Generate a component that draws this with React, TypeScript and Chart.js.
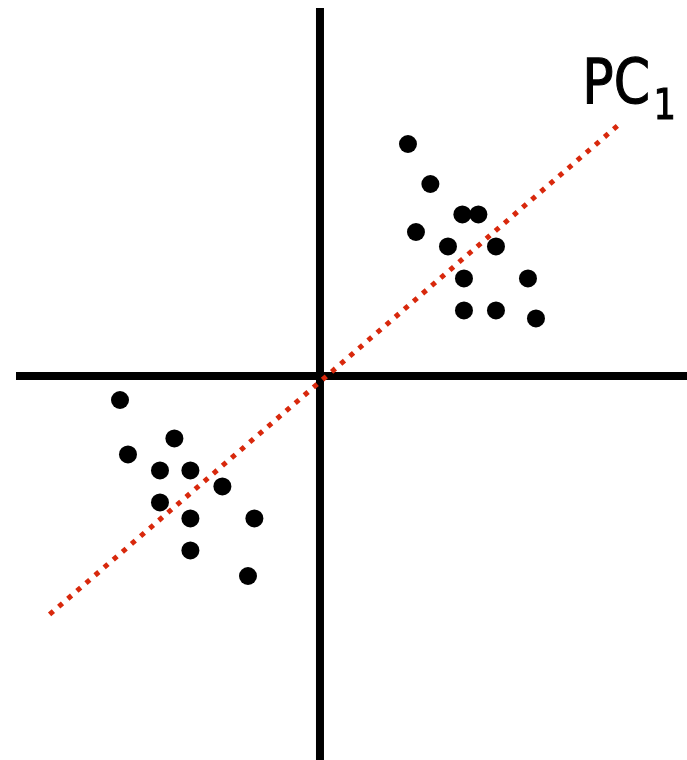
import React, { useEffect, useRef } from "react";
import { Chart, registerables } from "chart.js";

Chart.register(...registerables);

// Observations in the (x, y) plane, centred at the origin
const clusterAX = [5.5, 6.9, 8.9, 9.9, 6.0, 8.0, 11.0, 9.0, 13.0, 9.0, 11.0, 13.5];
const clusterAY = [14.5, 12.0, 10.1, 10.1, 9.0, 8.1, 8.1, 6.1, 6.1, 4.1, 4.1, 3.6];
const clusterBX = [-12.5, -9.1, -12.0, -10.0, -8.1, -6.1, -10.0, -8.1, -4.1, -8.1, -4.5];
const clusterBY = [-1.5, -3.9, -4.9, -5.9, -5.9, -6.9, -7.9, -8.9, -8.9, -10.9, -12.5];

// First principal component direction (end points of the drawn segment)
const pcX = [-16.9, 18.9];
const pcY = [-14.9, 15.9];

// Coordinate axes
const axisHX = [-19, 23];
const axisVY = [23, -24];

// Plot extents
const xRange = [-20, 22.94];
const yRange = [-24, 23.5];

const pcLabel = "PC";
const pcSub = "1";
const labelPos = { x: 16.4, y: 17.06 };

const zip = (xs: number[], ys: number[]) => xs.map((x, i) => ({ x, y: ys[i] }));

const labelPlugin = {
  id: "pcLabel",
  afterDatasetsDraw(chart: any) {
    const { ctx, scales } = chart;
    const px = scales.x.getPixelForValue(labelPos.x);
    const py = scales.y.getPixelForValue(labelPos.y);
    ctx.save();
    ctx.fillStyle = "#000";
    ctx.strokeStyle = "#000";
    ctx.lineWidth = 1.2;
    ctx.textBaseline = "alphabetic";
    ctx.translate(px, py);
    ctx.scale(0.84, 1);
    ctx.font = "62px 'DejaVu Sans'";
    ctx.fillText(pcLabel, 0, 0);
    ctx.strokeText(pcLabel, 0, 0);
    const w = ctx.measureText(pcLabel).width;
    ctx.font = "42px 'DejaVu Sans'";
    ctx.fillText(pcSub, w + 4, 16);
    ctx.strokeText(pcSub, w + 4, 16);
    ctx.restore();
  },
};

export default function App() {
  const ref = useRef<HTMLCanvasElement>(null);

  useEffect(() => {
    if (!ref.current) return;
    const chart = new Chart(ref.current, {
      type: "scatter",
      data: {
        datasets: [
          {
            data: [...zip(clusterAX, clusterAY), ...zip(clusterBX, clusterBY)],
            backgroundColor: "#000",
            borderColor: "#000",
            pointRadius: 9,
            pointBorderWidth: 0,
            showLine: false,
            order: 0,
          } as any,
          {
            data: zip(pcX, pcY),
            showLine: true,
            borderColor: "#d8280c",
            borderWidth: 5,
            borderDash: [5, 7],
            borderCapStyle: "butt",
            pointRadius: 0,
            order: 1,
          },
          {
            data: zip(axisHX, [0, 0]),
            showLine: true,
            borderColor: "#000",
            borderWidth: 8,
            borderCapStyle: "butt",
            pointRadius: 0,
            order: 2,
          },
          {
            data: zip([0, 0], axisVY),
            showLine: true,
            borderColor: "#000",
            borderWidth: 8,
            borderCapStyle: "butt",
            pointRadius: 0,
            order: 2,
          },
        ],
      },
      options: {
        responsive: false,
        animation: false,
        layout: { padding: 0, autoPadding: false },
        plugins: { legend: { display: false }, tooltip: { enabled: false } },
        events: [],
        scales: {
          x: { type: "linear", min: xRange[0], max: xRange[1], display: false },
          y: { type: "linear", min: yRange[0], max: yRange[1], display: false },
        },
      },
      plugins: [labelPlugin],
    });
    return () => chart.destroy();
  }, []);

  return (
    <div style={{ position: "absolute", left: 0, top: 0, width: 687, height: 760, background: "#fff" }}>
      <canvas ref={ref} width={687} height={760} />
    </div>
  );
}
